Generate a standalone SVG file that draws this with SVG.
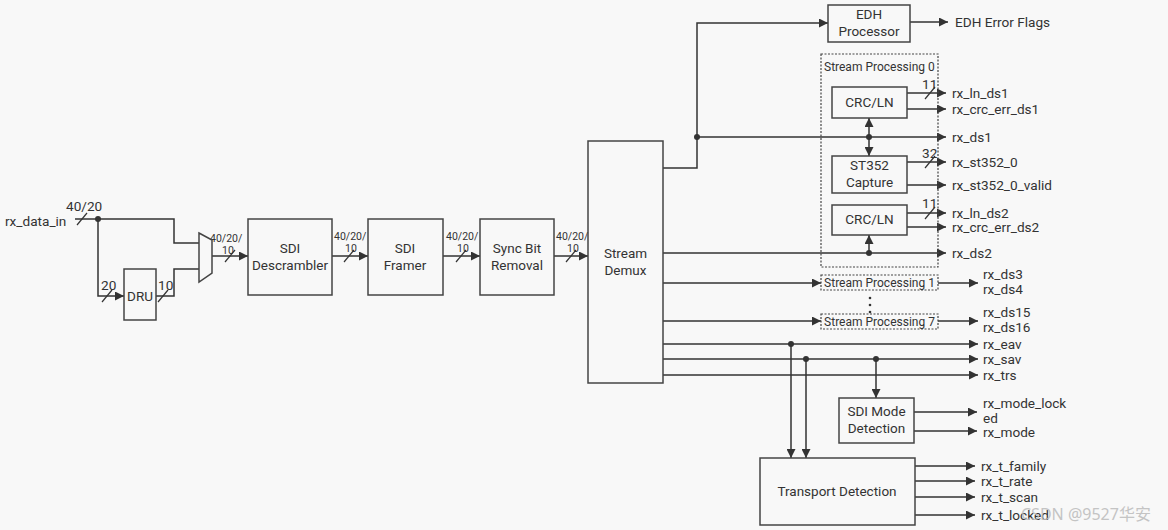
<svg xmlns="http://www.w3.org/2000/svg" width="1168" height="530" viewBox="0 0 1168 530">
<defs>
<marker id="ah" viewBox="0 0 10 10" refX="10" refY="5" markerWidth="9" markerHeight="9" markerUnits="userSpaceOnUse" orient="auto-start-reverse"><path d="M0,0 L10,5 L0,10 z" fill="#333"/></marker>
<style>
.b{fill:none;stroke:#444;stroke-width:1.5}
.d{fill:none;stroke:#444;stroke-width:1.2;stroke-dasharray:2,1.5}
.w{fill:none;stroke:#333;stroke-width:1.5}
.a{fill:none;stroke:#333;stroke-width:1.5;marker-end:url(#ah)}
.s{stroke:#333;stroke-width:1.2}
text{font-family:Roboto,"Liberation Sans",sans-serif;fill:#333}
.t{font-size:13.6px}
.c{font-size:13.5px;text-anchor:middle}
.m{font-size:10.5px}
.sp{font-size:12px}
</style>
</defs>
<rect width="1168" height="530" fill="#f8f8f8"/>

<g id="connectors">
<path class="w" d="M75,219 H174 V243 H199"/>
<path class="a" d="M98,219 V296 H124"/>
<path class="w" d="M156,296 H174 V269 H199"/>
<circle cx="98" cy="219" r="3" fill="#333"/>
<line class="s" x1="77" y1="225" x2="87" y2="213"/>
<line class="s" x1="102" y1="302" x2="112" y2="290"/>
<line class="s" x1="158" y1="302" x2="168" y2="290"/>
<path class="a" d="M212,256 H248"/>
<line class="s" x1="225" y1="262" x2="235" y2="250"/>
<path class="a" d="M332,256 H368"/>
<line class="s" x1="344" y1="262" x2="354" y2="250"/>
<path class="a" d="M443,256 H480"/>
<line class="s" x1="456" y1="262" x2="466" y2="250"/>
<path class="a" d="M554,256 H588"/>
<line class="s" x1="566" y1="262" x2="576" y2="250"/>
<path class="a" d="M663,168 H697 V23 H828"/>
<circle cx="697" cy="137" r="3" fill="#333"/>
<path class="a" d="M697,137 H946"/>
<path class="a" d="M910,22 H948"/>
<circle cx="869" cy="137" r="3" fill="#333"/>
<path class="a" d="M869,137 V118"/>
<path class="a" d="M869,137 V156"/>
<path class="a" d="M907,93 H946"/>
<line class="s" x1="925" y1="99" x2="935" y2="87"/>
<path class="a" d="M907,109 H946"/>
<path class="a" d="M907,162 H946"/>
<line class="s" x1="925" y1="168" x2="935" y2="156"/>
<path class="a" d="M907,185 H946"/>
<path class="a" d="M907,213 H946"/>
<line class="s" x1="925" y1="219" x2="935" y2="207"/>
<path class="a" d="M907,227 H946"/>
<path class="a" d="M663,253 H946"/>
<circle cx="869" cy="253" r="3" fill="#333"/>
<path class="a" d="M869,253 V235"/>
<path class="a" d="M663,283 H821"/>
<path class="a" d="M938,283 H978"/>
<path class="a" d="M663,321 H821"/>
<path class="a" d="M938,321 H978"/>
<circle cx="870" cy="298" r="1.3" fill="#333"/>
<circle cx="870" cy="305" r="1.3" fill="#333"/>
<circle cx="870" cy="312" r="1.3" fill="#333"/>
<path class="a" d="M663,344 H978"/>
<path class="a" d="M663,359 H978"/>
<path class="a" d="M663,375 H978"/>
<circle cx="791" cy="344" r="3" fill="#333"/>
<circle cx="806" cy="359" r="3" fill="#333"/>
<circle cx="876" cy="359" r="3" fill="#333"/>
<path class="a" d="M791,344 V458"/>
<path class="a" d="M806,359 V458"/>
<path class="a" d="M876,359 V398"/>
<path class="a" d="M914,412 H977"/>
<path class="a" d="M914,431 H977"/>
<path class="a" d="M915,466 H975"/>
<path class="a" d="M915,481 H975"/>
<path class="a" d="M915,497 H975"/>
<path class="a" d="M915,515 H975"/>
</g>

<g id="labels">
<text class="t" x="5" y="226">rx_data_in</text>
<text class="t" x="66" y="211">40/20</text>
<text class="t" x="101" y="290">20</text>
<text class="t" x="158" y="290">10</text>
<text class="m" x="210" y="242">40/20/</text>
<text class="m" x="222" y="254">10</text>
<text class="m" x="334" y="240">40/20/</text>
<text class="m" x="345" y="252">10</text>
<text class="m" x="446" y="240">40/20/</text>
<text class="m" x="457" y="252">10</text>
<text class="m" x="556" y="240">40/20/</text>
<text class="m" x="567" y="252">10</text>
<text class="t" x="922" y="89">11</text>
<text class="t" x="922" y="158">32</text>
<text class="t" x="922" y="208">11</text>
<text class="t" x="955" y="27">EDH Error Flags</text>
<text class="t" x="952" y="98">rx_ln_ds1</text>
<text class="t" x="952" y="114">rx_crc_err_ds1</text>
<text class="t" x="952" y="142">rx_ds1</text>
<text class="t" x="952" y="167">rx_st352_0</text>
<text class="t" x="952" y="190">rx_st352_0_valid</text>
<text class="t" x="952" y="218">rx_ln_ds2</text>
<text class="t" x="952" y="232">rx_crc_err_ds2</text>
<text class="t" x="952" y="258">rx_ds2</text>
<text class="t" x="983" y="279">rx_ds3</text>
<text class="t" x="983" y="294">rx_ds4</text>
<text class="t" x="983" y="317">rx_ds15</text>
<text class="t" x="983" y="332">rx_ds16</text>
<text class="t" x="983" y="349">rx_eav</text>
<text class="t" x="983" y="364">rx_sav</text>
<text class="t" x="983" y="380">rx_trs</text>
<text class="t" x="983" y="408">rx_mode_lock</text>
<text class="t" x="983" y="423">ed</text>
<text class="t" x="983" y="437">rx_mode</text>
<text class="t" x="981" y="471">rx_t_family</text>
<text class="t" x="981" y="486">rx_t_rate</text>
<text class="t" x="981" y="502">rx_t_scan</text>
<text class="t" x="981" y="520">rx_t_locked</text>
<text x="1021" y="520" style="font-family:'Noto Sans','Noto Sans CJK SC',sans-serif;font-size:16px;fill:#bbb;opacity:0.85">CSDN @9527华安</text>
</g>

<g id="mux"><path class="b" d="M199,233 L212,240 L212,273 L199,282 Z"/></g>
<g id="dru"><rect class="b" x="124" y="269" width="32" height="51"/><text class="c" x="140" y="301">DRU</text></g>
<g id="descrambler"><rect class="b" x="248" y="219" width="84" height="76"/><text class="c" x="290" y="253">SDI</text><text class="c" x="290" y="270">Descrambler</text></g>
<g id="framer"><rect class="b" x="368" y="219" width="75" height="76"/><text class="c" x="405" y="253">SDI</text><text class="c" x="405" y="270">Framer</text></g>
<g id="syncbit"><rect class="b" x="480" y="219" width="74" height="76"/><text class="c" x="517" y="253">Sync Bit</text><text class="c" x="517" y="270">Removal</text></g>
<g id="demux"><rect class="b" x="588" y="141" width="75" height="242"/><text class="c" x="625.5" y="258">Stream</text><text class="c" x="625.5" y="275">Demux</text></g>
<g id="edh"><rect class="b" x="828" y="5" width="82" height="37"/><text class="c" x="869" y="19">EDH</text><text class="c" x="869" y="36">Processor</text></g>
<g id="sp0"><rect class="d" x="821" y="54" width="117" height="213"/><text class="sp" x="824" y="71">Stream Processing 0</text></g>
<g id="crc1"><rect class="b" x="832" y="87" width="75" height="31"/><text class="c" x="869.5" y="107">CRC/LN</text></g>
<g id="st352"><rect class="b" x="832" y="156" width="75" height="37"/><text class="c" x="869.5" y="170">ST352</text><text class="c" x="869.5" y="187">Capture</text></g>
<g id="crc2"><rect class="b" x="832" y="205" width="75" height="30"/><text class="c" x="869.5" y="224">CRC/LN</text></g>
<g id="sp1"><rect class="d" x="821" y="275" width="117" height="15"/><text class="sp" x="879.5" y="287" text-anchor="middle">Stream Processing 1</text></g>
<g id="sp7"><rect class="d" x="821" y="314" width="117" height="15"/><text class="sp" x="879.5" y="326" text-anchor="middle">Stream Processing 7</text></g>
<g id="sdimode"><rect class="b" x="839" y="398" width="75" height="45"/><text class="c" x="876.5" y="416">SDI Mode</text><text class="c" x="876.5" y="433">Detection</text></g>
<g id="transport"><rect class="b" x="760" y="458" width="155" height="67"/><text class="c" x="837" y="496">Transport Detection</text></g>
</svg>
